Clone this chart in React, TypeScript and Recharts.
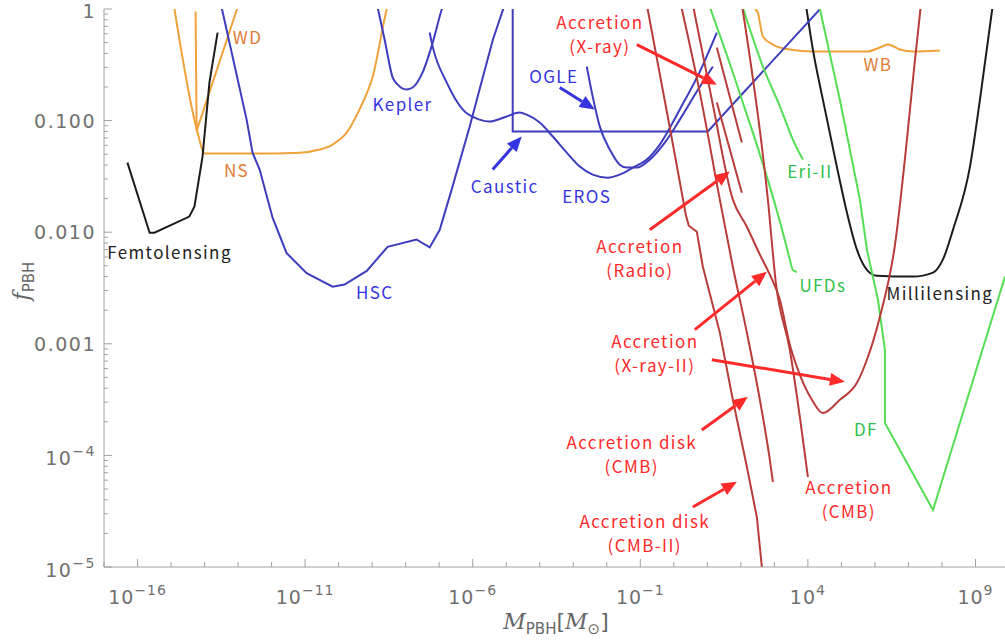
import React from 'react';
import { LineChart, Line, XAxis, YAxis, ReferenceLine, ReferenceDot } from 'recharts';

type Pair = [number, number];

// constraint curves: [M_PBH in solar masses, f_PBH]
const femtolensing: Pair[] = [[5.0e-17, 0.042], [2.3e-16, 0.0099], [3.2e-16, 0.0099], [3.5e-15, 0.0138], [5.0e-15, 0.017], [8.7e-15, 0.0475], [1.4e-14, 0.22], [2.45e-14, 0.615]];
const neutronStar: Pair[] = [[1.19e-15, 1.12], [6.2e-15, 0.078], [1.0e-14, 0.0506], [2.7e-13, 0.0506], [6.9e-12, 0.0516], [2.7e-11, 0.055], [6.6e-11, 0.061], [1.73e-10, 0.078], [4.2e-10, 0.126], [1.04e-9, 0.248], [2.7e-9, 0.99], [3.1e-9, 1.17]];
const whiteDwarf: Pair[] = [[5.4e-15, 0.95], [5.8e-15, 0.081], [9.0e-14, 0.97], [1.04e-13, 1.12]];
const hsc: Pair[] = [[3.0e-14, 1.14], [1.8e-13, 0.102], [2.7e-13, 0.0516], [4.4e-13, 0.0364], [1.07e-12, 0.0135], [2.8e-12, 0.0065], [1.11e-11, 0.0043], [6.6e-11, 0.00325], [1.5e-10, 0.0034], [6.9e-10, 0.0045], [2.9e-9, 0.0074], [2.1e-8, 0.0086], [5.2e-8, 0.0073], [1.04e-7, 0.0105], [2.5e-7, 0.0256], [8.1e-7, 0.088], [1.6e-6, 0.19], [4.0e-6, 0.53], [9.7e-6, 1.17]];
const kepler: Pair[] = [[1.36e-9, 1.14], [2.36e-9, 0.53], [4.1e-9, 0.243], [5.8e-9, 0.21], [1.07e-8, 0.19], [1.62e-8, 0.198], [3.2e-8, 0.27], [6.4e-8, 0.5], [1.19e-7, 0.99], [1.36e-7, 1.12]];
const eros: Pair[] = [[5.2e-8, 0.615], [6.4e-8, 0.46], [1.67e-7, 0.22], [5.0e-7, 0.126], [1.6e-6, 0.102], [3.2e-6, 0.098], [1.04e-5, 0.109], [2.5e-5, 0.118], [4.1e-5, 0.113], [1.0e-4, 0.096], [2.44e-4, 0.072], [6.4e-4, 0.0516], [1.56e-3, 0.0387], [3.8e-3, 0.0328], [1.07e-2, 0.0308], [2.44e-2, 0.0328], [5.97e-2, 0.0379], [0.156, 0.0447], [0.382, 0.061], [1.51, 0.126], [5.97, 0.275], [19.2, 0.615]];
const ogle: Pair[] = [[2.53e-3, 0.305], [3.8e-3, 0.164], [6.2e-3, 0.0883], [1.23e-2, 0.055], [2.44e-2, 0.0403], [3.95e-2, 0.0379], [7.9e-2, 0.0379], [0.192, 0.0447], [0.538, 0.0635], [1.51, 0.102], [4.86, 0.182], [14.6, 0.305]];
const caustic: Pair[] = [[1.56e-5, 1.1], [1.56e-5, 0.08], [10.35, 0.08], [3.1e4, 1.1]];
const wideBinaries: Pair[] = [[173, 1.1], [321, 0.93], [369, 0.757], [454, 0.567], [902, 0.48], [2.9e3, 0.433], [1.41e4, 0.416], [9.0e4, 0.416], [5.77e5, 0.416], [1.41e6, 0.452], [2.44e6, 0.48], [5.6e6, 0.433], [1.36e7, 0.416], [8.7e7, 0.425]];
const millilensing: Pair[] = [[8.7e3, 1.1], [1.41e4, 0.433], [2.8e4, 0.154], [7.3e4, 0.0387], [1.46e5, 0.015], [2.9e5, 0.00697], [5.77e5, 0.0046], [1.15e6, 0.00407], [1.36e7, 0.004], [5.4e7, 0.00434], [1.07e8, 0.0057], [2.13e8, 0.0105], [6.85e8, 0.0387], [1.36e9, 0.154], [3.3e9, 1.1]];
const eriII: Pair[] = [[107, 1.1], [454, 0.305], [1.46e3, 0.134], [3.56e3, 0.0676], [7.1e3, 0.0447]];
const ufds: Pair[] = [[11.1, 1.1], [57.7, 0.27], [228, 0.078], [734, 0.0256], [1.8e3, 0.0099], [2.9e3, 0.00567], [3.56e3, 0.0046], [4.7e3, 0.0044]];
const dynFriction: Pair[] = [[2.13e4, 1.1], [9.0e4, 0.154], [3.56e5, 0.0196], [5.77e5, 0.00697], [1.23e6, 0.00248], [1.99e6, 8.8e-4], [1.99e6, 1.95e-4], [5.4e7, 3.24e-5], [7.6e9, 4.0e-3]];
const accXray: Pair[] = [[19.2, 0.452], [107, 0.0635]];
const accRadio: Pair[] = [[19.2, 0.145], [107, 0.0226]];
const accXray2: Pair[] = [[3.69, 1.1], [14.6, 0.139], [57.7, 0.0196], [151, 0.0112], [369, 6.3e-3], [734, 4.16e-3], [1.46e3, 2.48e-3], [2.9e3, 9.8e-4], [5.77e3, 5.27e-4], [1.32e4, 3.15e-4], [2.8e4, 2.4e-4], [9.0e4, 3.15e-4], [2.9e5, 4.47e-4], [5.77e5, 7.2e-4], [1.41e6, 1.75e-3], [3.96e6, 7.7e-3], [8.4e6, 0.055], [1.46e7, 0.286], [2.36e7, 1.1]];
const accCmb: Pair[] = [[107, 1.1], [640, 0.0196], [1.11e3, 3.5e-3], [2.9e3, 8.8e-4], [5.77e3, 2.2e-4], [1.0e4, 6.4e-5]];
const accDiskCmb: Pair[] = [[1.62, 1.1], [5.97, 0.178], [23.6, 0.0196], [57.7, 4.9e-3], [151, 1.26e-3], [369, 3.15e-4], [734, 9.1e-5], [902, 5.8e-5]];
const accDiskCmb2: Pair[] = [[0.156, 1.1], [0.81, 0.078], [2.28, 0.01436], [2.8, 0.01143], [4.86, 0.0101], [7.35, 4.9e-3], [23.6, 1.26e-3], [57.7, 3.15e-4], [151, 7.9e-5], [300, 2.8e-5], [424, 1e-5], [454, 8.5e-6]];

// arrows: [from, to]
const arrowXray: Pair[] = [[0.0787, 0.48], [19.2, 0.21]];
const arrowRadio: Pair[] = [[0.192, 0.0105], [47, 0.0349]];
const arrowXray2a: Pair[] = [[4.24, 1.34e-3], [597, 4.43e-3]];
const arrowXray2b: Pair[] = [[13.6, 7.2e-4], [1.27e5, 4.56e-4]];
const arrowDiskCmb: Pair[] = [[6.86, 1.69e-4], [162, 3.35e-4]];
const arrowDiskCmb2: Pair[] = [[3.69, 3.45e-5], [76, 5.8e-5]];
const arrowOgle: Pair[] = [[3.95e-4, 0.198], [4.39e-3, 0.126]];
const arrowCaustic: Pair[] = [[3.95e-6, 0.0364], [2.9e-5, 0.072]];

// ticks
const xTicks = [1e-17, 1e-16, 1e-15, 1e-14, 1e-13, 1e-12, 1e-11, 1e-10, 1e-9, 1e-8, 1e-7, 1e-6, 1e-5, 1e-4, 1e-3, 1e-2, 1e-1, 1, 1e1, 1e2, 1e3, 1e4, 1e5, 1e6, 1e7, 1e8, 1e9, 1e10];
const xLabelTicks = [1e-16, 1e-11, 1e-6, 1e-1, 1e4, 1e9];
const xLabelExps = ['−16', '−11', '−6', '−1', '4', '9'];
const yTicks = [
  1e-5, 2e-5, 3e-5, 4e-5, 5e-5, 6e-5, 7e-5, 8e-5, 9e-5,
  1e-4, 2e-4, 3e-4, 4e-4, 5e-4, 6e-4, 7e-4, 8e-4, 9e-4,
  1e-3, 2e-3, 3e-3, 4e-3, 5e-3, 6e-3, 7e-3, 8e-3, 9e-3,
  1e-2, 2e-2, 3e-2, 4e-2, 5e-2, 6e-2, 7e-2, 8e-2, 9e-2,
  0.1, 0.2, 0.3, 0.4, 0.5, 0.6, 0.7, 0.8, 0.9, 1,
];
const yLabelTicks = [1e-5, 1e-4, 1e-3, 1e-2, 1e-1, 1];
const yLabelTexts = ['10^−5', '10^−4', '0.001', '0.010', '0.100', '1'];

const AXIS = '#a0a0a0';
const TICK_TEXT = '#707070';
const TICK_FONT = '"DejaVu Sans", sans-serif';
const FONT = '"Noto Sans CJK JP", "Noto Sans", sans-serif';

const BLUE = '#3d3dbd';
const ORANGE = '#f0a23a';
const BLACK = '#1c1c1c';
const GREEN = '#55dd55';
const DARKRED = '#b83c3a';

const T_BLUE = '#3535e0';
const T_ORANGE = '#e07b35';
const T_GREEN = '#2fbf4a';
const T_RED = '#ff2a2a';
const T_BLACK = '#222222';

// curves with vertical pieces stay linear, the rest are smoothed
const curves = [
  { key: 'ns', data: neutronStar, color: ORANGE, smooth: true },
  { key: 'wd', data: whiteDwarf, color: ORANGE, smooth: false },
  { key: 'wb', data: wideBinaries, color: ORANGE, smooth: true },
  { key: 'femto', data: femtolensing, color: BLACK, smooth: false },
  { key: 'milli', data: millilensing, color: BLACK, smooth: true },
  { key: 'hsc', data: hsc, color: BLUE, smooth: false },
  { key: 'kepler', data: kepler, color: BLUE, smooth: true },
  { key: 'eros', data: eros, color: BLUE, smooth: true },
  { key: 'ogle', data: ogle, color: BLUE, smooth: true },
  { key: 'caustic', data: caustic, color: BLUE, smooth: false },
  { key: 'eri', data: eriII, color: GREEN, smooth: true },
  { key: 'ufd', data: ufds, color: GREEN, smooth: true },
  { key: 'df', data: dynFriction, color: GREEN, smooth: false },
  { key: 'xray', data: accXray, color: DARKRED, smooth: false },
  { key: 'radio', data: accRadio, color: DARKRED, smooth: false },
  { key: 'xray2', data: accXray2, color: DARKRED, smooth: true },
  { key: 'cmb', data: accCmb, color: DARKRED, smooth: true },
  { key: 'diskcmb', data: accDiskCmb, color: DARKRED, smooth: true },
  { key: 'diskcmb2', data: accDiskCmb2, color: DARKRED, smooth: false },
];

const arrows = [
  { key: 'a1', seg: arrowXray, color: T_RED },
  { key: 'a2', seg: arrowRadio, color: T_RED },
  { key: 'a3', seg: arrowXray2a, color: T_RED },
  { key: 'a4', seg: arrowXray2b, color: T_RED },
  { key: 'a5', seg: arrowDiskCmb, color: T_RED },
  { key: 'a6', seg: arrowDiskCmb2, color: T_RED },
  { key: 'a7', seg: arrowOgle, color: T_BLUE },
  { key: 'a8', seg: arrowCaustic, color: T_BLUE },
];

// text annotations, anchored at the centre of the text block
const notes = [
  { at: [1.92e-13, 0.555], lines: ['WD'], color: T_ORANGE },
  { at: [9.0e-14, 0.0356], lines: ['NS'], color: T_ORANGE },
  { at: [1.23e6, 0.318], lines: ['WB'], color: T_ORANGE },
  { at: [9.0e-16, 6.55e-3], lines: ['Femtolensing'], color: T_BLACK },
  { at: [8.7e7, 2.8e-3], lines: ['Millilensing'], color: T_BLACK },
  { at: [1.19e-9, 2.87e-3], lines: ['HSC'], color: T_BLUE },
  { at: [8.1e-9, 0.139], lines: ['Kepler'], color: T_BLUE },
  { at: [2.62e-4, 0.248], lines: ['OGLE'], color: T_BLUE },
  { at: [9.0e-6, 0.0256], lines: ['Caustic'], color: T_BLUE },
  { at: [2.53e-3, 0.0208], lines: ['EROS'], color: T_BLUE },
  { at: [1.15e4, 0.0349], lines: ['Eri-II'], color: T_GREEN },
  { at: [2.8e4, 3.31e-3], lines: ['UFDs'], color: T_GREEN },
  { at: [5.4e5, 1.69e-4], lines: ['DF'], color: T_GREEN },
  { at: [6.2e-3, 0.59], lines: ['Accretion', '(X-ray)'], color: T_RED },
  { at: [0.0966, 5.8e-3], lines: ['Accretion', '(Radio)'], color: T_RED },
  { at: [0.271, 8.1e-4], lines: ['Accretion', '(X-ray-II)'], color: T_RED },
  { at: [0.0557, 1.01e-4], lines: ['Accretion disk', '(CMB)'], color: T_RED },
  { at: [1.67e5, 4.0e-5], lines: ['Accretion', '(CMB)'], color: T_RED },
  { at: [0.136, 1.98e-5], lines: ['Accretion disk', '(CMB-II)'], color: T_RED },
];

const toPts = (a: Pair[]) => a.map(([m, f]) => ({ m, f }));
const same = (a: number, b: number) => Math.abs(Math.log10(a) - Math.log10(b)) < 1e-6;

function BottomTick(props: any) {
  const { x, y, payload } = props;
  const i = xLabelTicks.findIndex((t) => same(t, payload.value));
  return (
    <g>
      <line x1={x} y1={y} x2={x} y2={y - (i >= 0 ? 8 : 5)} stroke={AXIS} />
      {i >= 0 && (
        <text x={x} y={y + 37} textAnchor="middle" fill={TICK_TEXT} fontFamily={TICK_FONT} fontSize={19} letterSpacing={1}>
          10
          <tspan dy={-9} fontSize={14}>{xLabelExps[i]}</tspan>
        </text>
      )}
    </g>
  );
}

function TopTick(props: any) {
  const { x, y } = props;
  return <line x1={x} y1={y} x2={x} y2={y + 5} stroke={AXIS} />;
}

function LeftTick(props: any) {
  const { x, y, payload } = props;
  const i = yLabelTicks.findIndex((t) => same(t, payload.value));
  const txt = i >= 0 ? yLabelTexts[i] : null;
  let label = null;
  if (txt) {
    const [base, sup] = txt.split('^');
    // the top label sits against the upper edge, nudge it down a little
    const dy = sup ? 10 : i === yLabelTicks.length - 1 ? 9 : 7;
    label = (
      <text x={x - 8} y={y + dy} textAnchor="end" fill={TICK_TEXT} fontFamily={TICK_FONT} fontSize={19} letterSpacing={1.5}>
        {base}
        {sup && <tspan dy={-9} fontSize={14}>{sup}</tspan>}
      </text>
    );
  }
  return (
    <g>
      <line x1={x} y1={y} x2={x + (i >= 0 ? 8 : 4)} y2={y} stroke={AXIS} />
      {label}
    </g>
  );
}

const arrowShape = (color: string) => (p: any) => {
  const { x1, y1, x2, y2 } = p;
  const ang = Math.atan2(y2 - y1, x2 - x1);
  const len = 15;
  const half = 6.5;
  const bx = x2 - len * Math.cos(ang);
  const by = y2 - len * Math.sin(ang);
  const nx = -Math.sin(ang) * half;
  const ny = Math.cos(ang) * half;
  return (
    <g>
      <line x1={x1} y1={y1} x2={bx} y2={by} stroke={color} strokeWidth={3} />
      <polygon points={`${x2},${y2} ${bx + nx},${by + ny} ${bx - nx},${by - ny}`} fill={color} />
    </g>
  );
};

const noteShape = (lines: string[], color: string) => (p: any) => (
  <text x={p.cx} y={p.cy} fill={color} fontFamily={FONT} fontSize={17} letterSpacing={1.4} textAnchor="middle">
    {lines.map((t, i) => (
      <tspan key={i} x={p.cx} dy={i === 0 ? 6 - (lines.length - 1) * 12 : 24}>
        {t}
      </tspan>
    ))}
  </text>
);

export default function App() {
  return (
    <div style={{ position: 'absolute', left: 0, top: 0, width: 1005, height: 644, overflow: 'hidden', background: '#fff' }}>
      <LineChart width={1012} height={644} margin={{ top: 9, right: 3, bottom: 0, left: 0 }}>
        <XAxis
          dataKey="m"
          type="number"
          scale="log"
          domain={[1e-17, 1e10]}
          allowDataOverflow
          ticks={xTicks}
          interval={0}
          height={77}
          tick={BottomTick}
          tickLine={false}
          tickSize={0}
          tickMargin={0}
          axisLine={{ stroke: AXIS }}
        />
        <XAxis
          xAxisId="top"
          orientation="top"
          type="number"
          scale="log"
          domain={[1e-17, 1e10]}
          allowDataOverflow
          ticks={xTicks}
          interval={0}
          height={0}
          tick={TopTick}
          tickLine={false}
          tickSize={0}
          tickMargin={0}
          axisLine={{ stroke: AXIS }}
        />
        <YAxis
          type="number"
          scale="log"
          domain={[1e-5, 1]}
          allowDataOverflow
          ticks={yTicks}
          interval={0}
          width={104}
          tick={LeftTick}
          tickLine={false}
          tickSize={0}
          tickMargin={0}
          axisLine={{ stroke: AXIS }}
        />
        {curves.map((c) => (
          <Line
            key={c.key}
            data={toPts(c.data)}
            dataKey="f"
            type={c.smooth ? 'monotone' : 'linear'}
            stroke={c.color}
            strokeWidth={2}
            dot={false}
            activeDot={false}
            isAnimationActive={false}
          />
        ))}
        {arrows.map((a) => (
          <ReferenceLine
            key={a.key}
            segment={[{ x: a.seg[0][0], y: a.seg[0][1] }, { x: a.seg[1][0], y: a.seg[1][1] }]}
            ifOverflow="visible"
            shape={arrowShape(a.color)}
          />
        ))}
        {notes.map((n, i) => (
          <ReferenceDot key={i} x={n.at[0]} y={n.at[1]} r={0} ifOverflow="visible" shape={noteShape(n.lines, n.color)} />
        ))}
      </LineChart>
      <svg width={1005} height={644} style={{ position: 'absolute', left: 0, top: 0, pointerEvents: 'none' }}>
        <text transform="translate(29,281) rotate(-90)" textAnchor="middle" fill="#666" fontFamily={TICK_FONT} fontSize={22}>
          <tspan fontStyle="italic" fontFamily='"DejaVu Serif", serif'>f</tspan>
          <tspan dy={5} fontSize={15}>PBH</tspan>
        </text>
        <text x={556} y={629} textAnchor="middle" fill="#666" fontFamily={TICK_FONT} fontSize={22}>
          <tspan fontStyle="italic" fontFamily='"DejaVu Serif", serif'>M</tspan>
          <tspan dy={5} fontSize={15}>PBH</tspan>
          <tspan dy={-5}>[</tspan>
          <tspan fontStyle="italic" fontFamily='"DejaVu Serif", serif'>M</tspan>
          <tspan dy={5} fontSize={15}>⊙</tspan>
          <tspan dy={-5}>]</tspan>
        </text>
      </svg>
    </div>
  );
}
